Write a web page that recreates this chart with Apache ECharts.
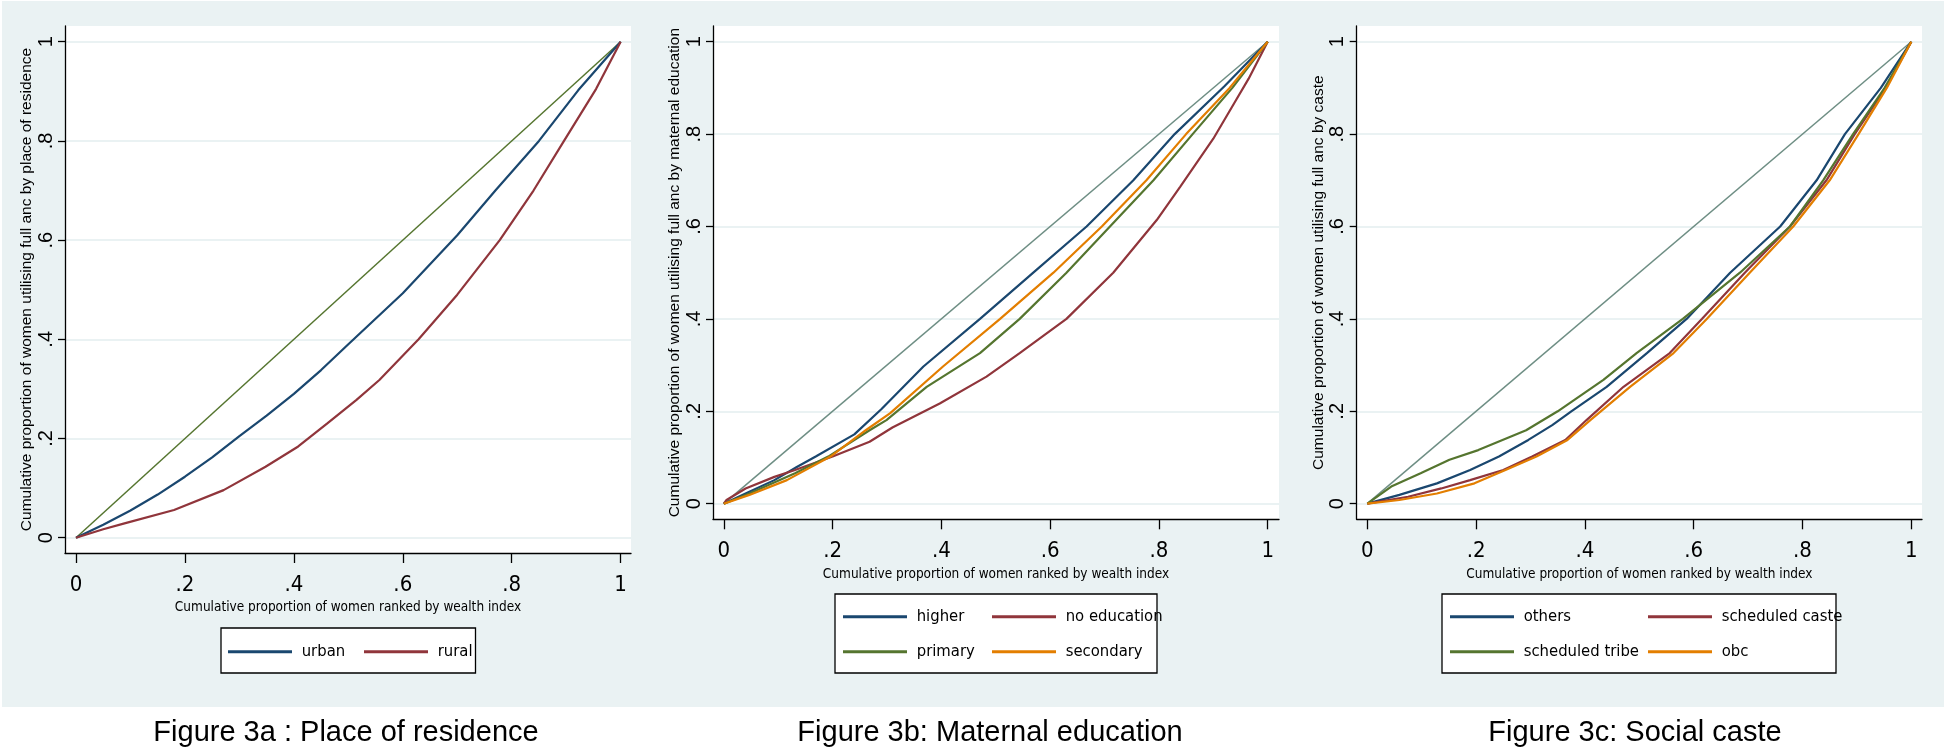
<!DOCTYPE html>
<html><head><meta charset="utf-8">
<script src="https://cdn.jsdelivr.net/npm/echarts@6/dist/echarts.min.js"></script>
<style>
html,body{margin:0;padding:0;background:#fff;}
#bg{position:absolute;left:2px;top:1px;width:1942px;height:706px;background:#EAF2F3;}
#chart{position:absolute;left:0;top:0;width:1946px;height:752px;}
</style></head><body>
<div id="bg"></div><div id="chart"></div>
<script>
// ---- data ----
const tickValues = [0, 0.2, 0.4, 0.6, 0.8, 1];
const tickLabels = ['0', '.2', '.4', '.6', '.8', '1'];
const equality = [[0, 0], [1, 1]];

const urban = [[0,0],[0.05,0.026],[0.1,0.055],[0.15,0.087],[0.2,0.123],[0.25,0.162],[0.3,0.205],[0.35,0.246],[0.4,0.29],[0.45,0.338],[0.5,0.39],[0.6,0.493],[0.7,0.61],[0.77,0.7],[0.85,0.8],[0.922,0.902],[1,1]];
const rural = [[0,0],[0.05,0.017],[0.089,0.029],[0.18,0.056],[0.271,0.096],[0.348,0.143],[0.408,0.184],[0.462,0.231],[0.515,0.278],[0.557,0.318],[0.629,0.4],[0.7,0.49],[0.778,0.6],[0.84,0.7],[0.896,0.8],[0.955,0.905],[1,1]];

const higher = [[0,0],[0.04,0.022],[0.093,0.051],[0.135,0.08],[0.169,0.102],[0.24,0.15],[0.29,0.205],[0.367,0.297],[0.471,0.4],[0.569,0.5],[0.667,0.6],[0.753,0.7],[0.829,0.8],[0.92,0.903],[1,1]];
const noEducation = [[0,0],[0.005,0.008],[0.04,0.033],[0.093,0.058],[0.131,0.073],[0.2,0.102],[0.268,0.134],[0.31,0.165],[0.397,0.217],[0.483,0.275],[0.544,0.326],[0.63,0.4],[0.716,0.5],[0.796,0.614],[0.839,0.686],[0.9,0.79],[0.94,0.87],[0.965,0.92],[1,1]];
const primary = [[0,0],[0.047,0.022],[0.131,0.066],[0.192,0.102],[0.268,0.159],[0.299,0.181],[0.373,0.253],[0.471,0.326],[0.544,0.4],[0.63,0.5],[0.71,0.6],[0.79,0.7],[0.862,0.8],[0.935,0.9],[1,1]];
const secondary = [[0,0],[0.047,0.019],[0.116,0.051],[0.196,0.102],[0.261,0.159],[0.306,0.196],[0.403,0.297],[0.508,0.4],[0.606,0.5],[0.695,0.6],[0.777,0.7],[0.85,0.8],[0.93,0.9],[1,1]];

const others = [[0,0],[0.059,0.019],[0.128,0.044],[0.189,0.073],[0.242,0.102],[0.296,0.138],[0.34,0.17],[0.375,0.2],[0.44,0.253],[0.514,0.326],[0.587,0.4],[0.667,0.5],[0.759,0.6],[0.826,0.7],[0.878,0.8],[0.944,0.9],[1,1]];
const scheduledCaste = [[0,0],[0.075,0.015],[0.136,0.033],[0.189,0.051],[0.25,0.073],[0.303,0.102],[0.364,0.138],[0.403,0.181],[0.471,0.253],[0.556,0.326],[0.615,0.4],[0.694,0.5],[0.777,0.6],[0.844,0.7],[0.896,0.8],[0.953,0.9],[1,1]];
const scheduledTribe = [[0,0],[0.044,0.037],[0.098,0.066],[0.151,0.095],[0.204,0.116],[0.292,0.159],[0.35,0.2],[0.434,0.268],[0.495,0.326],[0.58,0.4],[0.685,0.5],[0.777,0.6],[0.838,0.7],[0.893,0.8],[0.951,0.9],[1,1]];
const obc = [[0,0],[0.059,0.008],[0.128,0.022],[0.197,0.044],[0.254,0.073],[0.311,0.102],[0.368,0.138],[0.41,0.181],[0.483,0.253],[0.563,0.326],[0.624,0.4],[0.703,0.5],[0.783,0.6],[0.85,0.7],[0.903,0.8],[0.955,0.9],[1,1]];

const xTitle = 'Cumulative proportion of women ranked by wealth index';
const yTitles = [
  'Cumulative proportion of women utilising full anc by place of residence',
  'Cumulative proportion of women utilising full anc by maternal education',
  'Cumulative proportion of women utilising full anc by caste'
];
const captions = ['Figure 3a : Place of residence', 'Figure 3b: Maternal education', 'Figure 3c: Social caste'];

// ---- styles ----
const NAVY = '#1A476F', MAROON = '#90353B', GREEN = '#55752F', ORANGE = '#E37E00', TEAL = '#6E8E84';
const NARROW = "'Liberation Sans Narrow', 'Arial Narrow', 'DejaVu Sans Condensed', 'Liberation Sans', sans-serif";
const SANS = "'Liberation Sans', Arial, sans-serif";

function fmt(v) {
  const i = tickValues.findIndex(t => Math.abs(t - v) < 1e-6);
  return i >= 0 ? tickLabels[i] : '';
}

const grids = [
  {left: 65, top: 26, width: 566, height: 527},
  {left: 713, top: 26, width: 566, height: 493.3},
  {left: 1356.7, top: 26, width: 565.3, height: 493.3}
];
const xRanges = [[-0.0202, 1.019], [-0.0199, 1.0208], [-0.0195, 1.0197]];
const yRanges = [[-0.0308, 1.0317], [-0.0338, 1.034], [-0.0338, 1.034]];
const yNameGaps = [26, 26, 28];

const axisLineStyle = {color: '#000', width: 1.3};

function legend(names, left, top, w, gap) {
  return {
    data: names, left: left, top: top, orient: 'horizontal', icon: 'rect',
    itemWidth: 64, itemHeight: 3, itemGap: gap, padding: 0, selectedMode: false,
    formatter: n => ' ' + n,
    textStyle: {fontFamily: NARROW, fontSize: 16.5, color: '#000', width: w, lineHeight: 22}
  };
}
function line(name, data, color, idx, width) {
  return {
    type: 'line', name: name, data: data, xAxisIndex: idx, yAxisIndex: idx,
    showSymbol: false, symbol: 'none', silent: true,
    lineStyle: {color: color, width: width}, itemStyle: {color: color}
  };
}

const option = {
  backgroundColor: 'transparent',
  animation: false,
  grid: grids.map(g => Object.assign({show: true, backgroundColor: '#fff', borderWidth: 0, containLabel: false}, g)),
  xAxis: grids.map((g, i) => ({
    type: 'value', gridIndex: i, min: xRanges[i][0], max: xRanges[i][1],
    axisLine: {show: true, onZero: false, lineStyle: axisLineStyle},
    axisTick: {show: true, length: 10, lineStyle: axisLineStyle, customValues: tickValues},
    axisLabel: {show: true, customValues: tickValues, formatter: fmt, color: '#000', fontSize: 22, fontFamily: NARROW, margin: 21},
    splitLine: {show: false},
    name: xTitle, nameLocation: 'middle', nameGap: 45,
    nameTextStyle: {fontSize: 13.5, fontFamily: NARROW, color: '#000'}
  })),
  yAxis: grids.map((g, i) => ({
    type: 'value', gridIndex: i, min: yRanges[i][0], max: yRanges[i][1],
    axisLine: {show: true, onZero: false, lineStyle: axisLineStyle},
    axisTick: {show: true, length: 7, lineStyle: axisLineStyle, customValues: tickValues},
    axisLabel: {show: true, customValues: tickValues, formatter: fmt, color: '#000', fontSize: 20, fontFamily: SANS, rotate: 90, margin: 9},
    splitLine: {show: true, lineStyle: {color: '#EAF2F3', width: 2}},
    name: yTitles[i], nameLocation: 'middle', nameGap: yNameGaps[i], nameRotate: 90,
    nameTextStyle: {fontSize: 15.5, fontFamily: SANS, color: '#000'}
  })),
  title: captions.map((c, i) => ({
    text: c, left: [346, 990, 1635][i], top: 718, textAlign: 'center', padding: 0,
    textStyle: {fontFamily: SANS, fontSize: 29, fontWeight: 'normal', color: '#000'}
  })),
  graphic: {elements: [
    {type: 'rect', silent: true, shape: {x: 221, y: 628, width: 254.5, height: 45}, style: {fill: '#fff', stroke: '#000', lineWidth: 1.3}},
    {type: 'rect', silent: true, shape: {x: 835, y: 594, width: 322, height: 79}, style: {fill: '#fff', stroke: '#000', lineWidth: 1.3}},
    {type: 'rect', silent: true, shape: {x: 1442, y: 594, width: 394, height: 79}, style: {fill: '#fff', stroke: '#000', lineWidth: 1.3}}
  ]},
  legend: [
    legend(['urban', 'rural'], 228, 640.7, 62, 5),
    legend(['higher', 'no education'], 843, 605.7, 74, 6),
    legend(['primary', 'secondary'], 843, 640.7, 74, 6),
    legend(['others', 'scheduled caste'], 1450, 605.7, 123, 6),
    legend(['scheduled tribe', 'obc'], 1450, 640.7, 123, 6)
  ],
  series: [
    line('equality a', equality, GREEN, 0, 1.5),
    line('urban', urban, NAVY, 0, 2.2),
    line('rural', rural, MAROON, 0, 2.2),
    line('equality b', equality, TEAL, 1, 1.5),
    line('higher', higher, NAVY, 1, 2.2),
    line('no education', noEducation, MAROON, 1, 2.2),
    line('primary', primary, GREEN, 1, 2.2),
    line('secondary', secondary, ORANGE, 1, 2.2),
    line('equality c', equality, TEAL, 2, 1.5),
    line('others', others, NAVY, 2, 2.2),
    line('scheduled caste', scheduledCaste, MAROON, 2, 2.2),
    line('scheduled tribe', scheduledTribe, GREEN, 2, 2.2),
    line('obc', obc, ORANGE, 2, 2.2)
  ]
};

const chart = echarts.init(document.getElementById('chart'), null, {renderer: 'canvas'});
chart.setOption(option);
</script>
</body></html>
